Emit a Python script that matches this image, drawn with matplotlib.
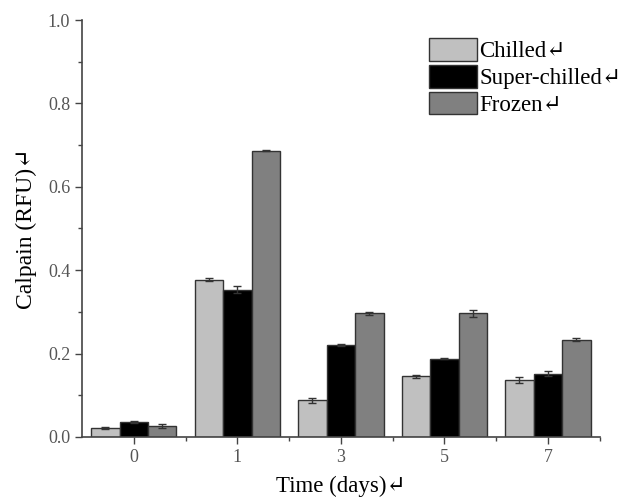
import matplotlib.pyplot as plt
import numpy as np
from matplotlib.ticker import MultipleLocator

days = ["0", "1", "3", "5", "7"]
chilled = [0.022, 0.377, 0.088, 0.145, 0.137]
chilled_err = [0.002, 0.004, 0.006, 0.003, 0.007]
superchilled = [0.036, 0.353, 0.221, 0.188, 0.152]
superchilled_err = [0.002, 0.008, 0.003, 0.002, 0.006]
frozen = [0.026, 0.687, 0.296, 0.296, 0.233]
frozen_err = [0.005, 0.002, 0.003, 0.008, 0.003]

plt.rcParams['font.family'] = ['Liberation Serif', 'DejaVu Serif']

fig = plt.figure(figsize=(6.26, 5.01), dpi=100)
ax = fig.add_axes([0.131, 0.128, 0.827, 0.832])

x = np.arange(len(days))
w = 0.275
series = [
    (chilled, chilled_err, "#c0c0c0", "Chilled\u21b5"),
    (superchilled, superchilled_err, "#000000", "Super-chilled\u21b5"),
    (frozen, frozen_err, "#808080", "Frozen\u21b5"),
]
for i, (vals, err, col, lab) in enumerate(series):
    ax.bar(x + (i - 1) * w, vals, w, color=col, edgecolor="#333333", linewidth=1.0,
           yerr=err, capsize=3, error_kw=dict(ecolor="#333333", elinewidth=1, capthick=1),
           label=lab)

ax.set_xlim(-0.5, 4.5)
ax.set_ylim(0, 1.0)
ax.set_xticks(x)
ax.set_xticklabels(days)
ax.set_xticks(x + 0.5, minor=True)
ax.yaxis.set_major_locator(MultipleLocator(0.2))
ax.yaxis.set_minor_locator(MultipleLocator(0.1))
ax.yaxis.set_major_formatter(plt.FuncFormatter(lambda v, p: f"{v:.1f}"))

for s in ["top", "right"]:
    ax.spines[s].set_visible(False)
for s in ["left", "bottom"]:
    ax.spines[s].set_color("#444444")
    ax.spines[s].set_linewidth(1.2)
ax.tick_params(which="major", direction="out", length=5, width=1, colors="#444444",
               labelsize=13, labelcolor="#555555")
ax.tick_params(which="minor", direction="out", length=3, width=1, colors="#444444")

ax.set_ylabel("Calpain (RFU)\u21b5", fontsize=17, labelpad=8)
ax.set_xlabel("Time (days)\u21b5", fontsize=16.5, labelpad=7)

ax.legend(loc="upper left", bbox_to_anchor=(0.643, 0.99), frameon=False, fontsize=16.5,
          handlelength=2.1, handleheight=1.15, handletextpad=0.1, labelspacing=0.12,
          borderaxespad=0.2)

fig.savefig("out.png", dpi=100)
